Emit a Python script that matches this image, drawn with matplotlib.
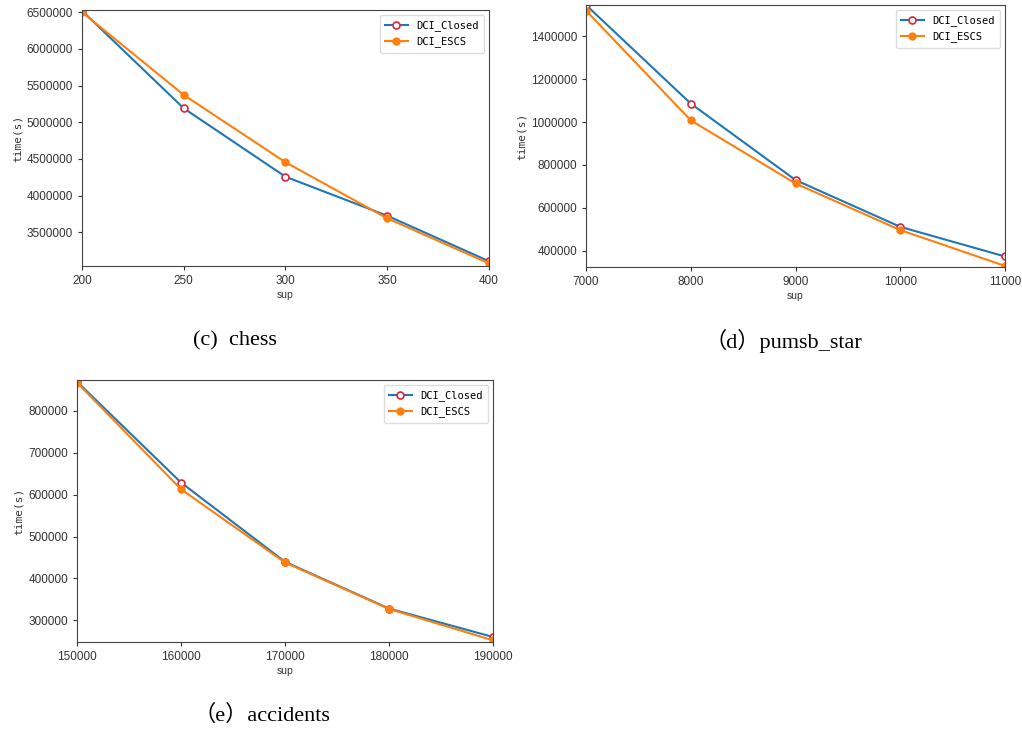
import matplotlib
matplotlib.use("Agg")
import matplotlib.pyplot as plt

# chess
chess_sup = [200, 250, 300, 350, 400]
chess_closed = [6520000, 5190000, 4257000, 3725000, 3105000]
chess_escs = [6500000, 5372000, 4454000, 3690000, 3075000]

# pumsb_star
pumsb_sup = [7000, 8000, 9000, 10000, 11000]
pumsb_closed = [1545000, 1086000, 730000, 512000, 374000]
pumsb_escs = [1519000, 1008000, 714000, 497000, 330000]

# accidents
acc_sup = [150000, 160000, 170000, 180000, 190000]
acc_closed = [870000, 629000, 439500, 328000, 260000]
acc_escs = [868000, 613000, 438000, 327000, 252000]

W, H = 1022, 731
fig = plt.figure(figsize=(W / 100, H / 100), dpi=100)

TICK_FONT = "Liberation Sans"
MONO = ["DejaVu Sans Mono"]
CAPTION = ["Liberation Serif", "Noto Sans CJK SC"]


def panel(box, x, closed, escs, xlim, ylim, yticks):
    left, right, top, bottom = box
    ax = fig.add_axes((left / W, 1 - bottom / H, (right - left) / W, (bottom - top) / H))
    ax.plot(x, closed, color="#1f77b4", lw=1.5, marker="o", ms=5,
            mfc="white", mec="#d62741", mew=1.2, label="DCI_Closed")
    ax.plot(x, escs, color="#ff7f0e", lw=1.5, marker="o", ms=5,
            label="DCI_ESCS")
    ax.set_xlim(*xlim)
    ax.set_ylim(*ylim)
    ax.set_xticks(x)
    ax.set_yticks(yticks)
    ax.set_xticklabels([str(v) for v in x], fontsize=8.5, family=TICK_FONT, color="#333333")
    ax.set_yticklabels([str(v) for v in yticks], fontsize=8.5, family=TICK_FONT, color="#333333")
    ax.tick_params(length=3, color="#333333", width=0.8)
    for s in ax.spines.values():
        s.set_color("#444444")
    ax.set_xlabel("sup", fontsize=7.5, family=TICK_FONT, color="#333333", labelpad=2)
    ax.set_ylabel("time(s)", fontsize=8, family=MONO, color="#333333", labelpad=3)
    ax.legend(loc="upper right", prop={"family": MONO, "size": 7.5}, framealpha=1,
              edgecolor="#dddddd", handlelength=2.2, borderpad=0.5)
    return ax


panel((82, 489, 10, 266), chess_sup, chess_closed, chess_escs,
      (200, 400), (3040000, 6530000),
      [3500000, 4000000, 4500000, 5000000, 5500000, 6000000, 6500000])
panel((586, 1005, 5, 267), pumsb_sup, pumsb_closed, pumsb_escs,
      (7000, 11000), (325000, 1545000),
      [400000, 600000, 800000, 1000000, 1200000, 1400000])
panel((77, 493, 380, 642), acc_sup, acc_closed, acc_escs,
      (150000, 190000), (248000, 874000),
      [300000, 400000, 500000, 600000, 700000, 800000])

fig.text(235 / W, 1 - 341 / H, "(c)  chess", ha="center", va="center",
         fontsize=16, family=CAPTION)
fig.text(783 / W, 1 - 341 / H, "（d）pumsb_star", ha="center", va="center",
         fontsize=16, family=CAPTION)
fig.text(262 / W, 1 - 715 / H, "（e）accidents", ha="center", va="center",
         fontsize=16, family=CAPTION)

fig.savefig("out.png", dpi=100)
